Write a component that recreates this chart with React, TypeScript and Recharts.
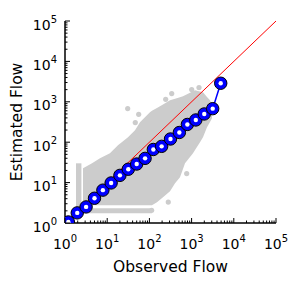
import React from 'react';
import { ComposedChart, XAxis, YAxis, Line, Area, Scatter } from 'recharts';

// ---- tick labels ----
const MAJOR_TICKS = [1, 10, 100, 1000, 10000, 100000];
const EXPONENTS = ['0', '1', '2', '3', '4', '5'];
const MINOR_MULTIPLIERS = [2, 3, 4, 5, 6, 7, 8, 9];
const ALL_TICKS = [
  ...MAJOR_TICKS,
  ...MAJOR_TICKS.slice(0, 5).flatMap((m) => MINOR_MULTIPLIERS.map((k) => k * m)),
].sort((a, b) => a - b);

// ---- binned means (blue) ----
const binObserved = [1.2, 1.95, 3.16, 5.0, 7.9, 12.4, 20, 31.6, 50, 79, 124, 195, 316, 513, 794, 1259, 1995, 3162, 4900];
const binEstimated = [1.06, 1.78, 2.5, 4.1, 6.5, 9.8, 15.1, 21.4, 28.8, 39.8, 66, 79, 120, 174, 275, 355, 500, 676, 2880];

// ---- identity line (red) ----
const identityX = [1, 100000];
const identityY = [1, 100000];

// ---- gray point cloud envelope (observed, low, high) ----
const cloudX = [2.67, 4.37, 6.75, 11.6, 18.0, 31.1, 45.6, 59.8, 103, 115, 151, 178, 210, 308, 405, 531, 625, 698, 1079, 1205, 1581, 1862, 2317, 2729, 3041];
const cloudLow = [2.74, 2.74, 2.74, 2.74, 2.74, 2.74, 2.74, 2.74, 2.74, 2.74, 3.25, 3.75, 4.33, 6.1, 9.6, 13.5, 21.8, 30.1, 53.1, 63.7, 99.5, 132, 234, 318, 391];
const cloudHigh = [22.6, 30.1, 39.9, 53.1, 83.8, 132, 197, 311, 550, 600, 700, 774, 857, 1089, 1189, 1297, 1368, 1445, 1820, 1928, 1795, 1718, 1324, 1089, 818];

// column of points at observed = 2
const columnX = [1.82, 2.45];
const columnLow = [1.45, 1.45];
const columnHigh = [30, 30];

// bottom strip of points
const stripX = [1.82, 115];
const stripLow = [1.74, 1.74];
const stripHigh = [2.31, 2.31];

// outlier points
const outlierX = [30.6, 55.7, 46.3, 243, 338, 1005, 1497, 765, 280, 113];
const outlierY = [679, 491, 306, 1153, 1596, 2005, 2245, 16.7, 3.3, 2.06];

const binData = binObserved.map((x, i) => ({ x, y: binEstimated[i] }));
const identityData = identityX.map((x, i) => ({ x, y: identityY[i] }));
const cloudData = cloudX.map((x, i) => ({ x, range: [cloudLow[i], cloudHigh[i]] }));
const columnData = columnX.map((x, i) => ({ x, range: [columnLow[i], columnHigh[i]] }));
const stripData = stripX.map((x, i) => ({ x, range: [stripLow[i], stripHigh[i]] }));
const outlierData = outlierX.map((x, i) => ({ x, y: outlierY[i] }));

const FONT = '"DejaVu Sans", sans-serif';
const GRAY = '#cccccc';
const MAJOR_LEN = 5;
const MINOR_LEN = 2.5;

const makeTick = (side: 'bottom' | 'top' | 'left' | 'right') => (props: any) => {
  const { x, y, payload } = props;
  const i = MAJOR_TICKS.indexOf(payload.value);
  const len = i >= 0 ? MAJOR_LEN : MINOR_LEN;
  let x2 = x;
  let y2 = y;
  if (side === 'bottom') y2 = y - len;
  if (side === 'top') y2 = y + len;
  if (side === 'left') x2 = x + len;
  if (side === 'right') x2 = x - len;
  return (
    <g>
      <line x1={x} y1={y} x2={x2} y2={y2} stroke="#000" strokeWidth={1} />
      {i >= 0 && side === 'bottom' && (
        <text x={x} y={y + 25.5} textAnchor="middle" fontFamily={FONT} fill="#000">
          <tspan fontSize={14}>10</tspan>
          <tspan fontSize={10} dy={-7}>{EXPONENTS[i]}</tspan>
        </text>
      )}
      {i >= 0 && side === 'left' && (
        <text x={x - 8} y={y + 8.5} textAnchor="end" fontFamily={FONT} fill="#000">
          <tspan fontSize={14}>10</tspan>
          <tspan fontSize={10} dy={-7}>{EXPONENTS[i]}</tspan>
        </text>
      )}
    </g>
  );
};

const BlueDot = (p: any) => {
  const { cx, cy, index } = p;
  if (cx == null || cy == null) return <g key={`d${index}`} />;
  return (
    <g key={`d${index}`}>
      <circle cx={cx} cy={cy} r={6.2} fill="#0000ff" stroke="#000" strokeWidth={1} />
      <circle cx={cx} cy={cy} r={2.2} fill="#ffffff" />
    </g>
  );
};

const GrayDot = (p: any) => <circle cx={p.cx} cy={p.cy} r={2.6} fill={GRAY} />;

const axisLine = { stroke: '#000', strokeWidth: 1.5 };

export default function App() {
  return (
    <div style={{ position: 'absolute', left: 0, top: 0, width: 301, height: 283, background: '#fff' }}>
      <ComposedChart width={301} height={283} margin={{ top: 21, right: 25, bottom: 0, left: 0 }}>
        <XAxis
          xAxisId="b"
          dataKey="x"
          type="number"
          scale="log"
          domain={[1, 100000]}
          allowDataOverflow
          ticks={ALL_TICKS}
          interval={0}
          height={60}
          tickSize={0}
          tickMargin={0}
          tickLine={false}
          axisLine={axisLine}
          tick={makeTick('bottom')}
          label={(p: any) => {
            const vb = p.viewBox;
            return (
              <text x={vb.x + vb.width / 2} y={vb.y + 48.5} textAnchor="middle" fontFamily={FONT} fontSize={15.5} fill="#000">
                Observed Flow
              </text>
            );
          }}
        />
        <XAxis
          xAxisId="t"
          orientation="top"
          dataKey="x"
          type="number"
          scale="log"
          domain={[1, 100000]}
          allowDataOverflow
          ticks={ALL_TICKS}
          interval={0}
          height={0}
          tickSize={0}
          tickMargin={0}
          tickLine={false}
          axisLine={axisLine}
          tick={makeTick('top')}
        />
        <YAxis
          yAxisId="l"
          dataKey="y"
          type="number"
          scale="log"
          domain={[1, 100000]}
          allowDataOverflow
          ticks={ALL_TICKS}
          interval={0}
          width={65}
          tickSize={0}
          tickMargin={0}
          tickLine={false}
          axisLine={axisLine}
          tick={makeTick('left')}
          label={(p: any) => {
            const vb = p.viewBox;
            const cx = vb.x + 21.5;
            const cy = vb.y + vb.height / 2;
            return (
              <text x={cx} y={cy} transform={`rotate(-90, ${cx}, ${cy})`} textAnchor="middle" fontFamily={FONT} fontSize={15.5} fill="#000">
                Estimated Flow
              </text>
            );
          }}
        />
        <YAxis
          yAxisId="r"
          orientation="right"
          dataKey="y"
          type="number"
          scale="log"
          domain={[1, 100000]}
          allowDataOverflow
          ticks={ALL_TICKS}
          interval={0}
          width={0}
          tickSize={0}
          tickMargin={0}
          tickLine={false}
          axisLine={axisLine}
          tick={makeTick('right')}
        />
        <Area xAxisId="b" yAxisId="l" data={cloudData} dataKey="range" type="linear" stroke="none" fill={GRAY} fillOpacity={1} dot={false} activeDot={false} isAnimationActive={false} />
        <Area xAxisId="b" yAxisId="l" data={columnData} dataKey="range" type="linear" stroke="none" fill={GRAY} fillOpacity={1} dot={false} activeDot={false} isAnimationActive={false} />
        <Area xAxisId="b" yAxisId="l" data={stripData} dataKey="range" type="linear" stroke="none" fill={GRAY} fillOpacity={1} dot={false} activeDot={false} isAnimationActive={false} />
        <Scatter xAxisId="b" yAxisId="l" data={outlierData} shape={GrayDot} isAnimationActive={false} />
        <Line xAxisId="b" yAxisId="l" data={identityData} dataKey="y" type="linear" stroke="#ff0000" strokeWidth={1} dot={false} activeDot={false} isAnimationActive={false} />
        <Line xAxisId="b" yAxisId="l" data={binData} dataKey="y" type="linear" stroke="#0000ff" strokeWidth={1.5} dot={BlueDot} activeDot={false} isAnimationActive={false} />
      </ComposedChart>
    </div>
  );
}
